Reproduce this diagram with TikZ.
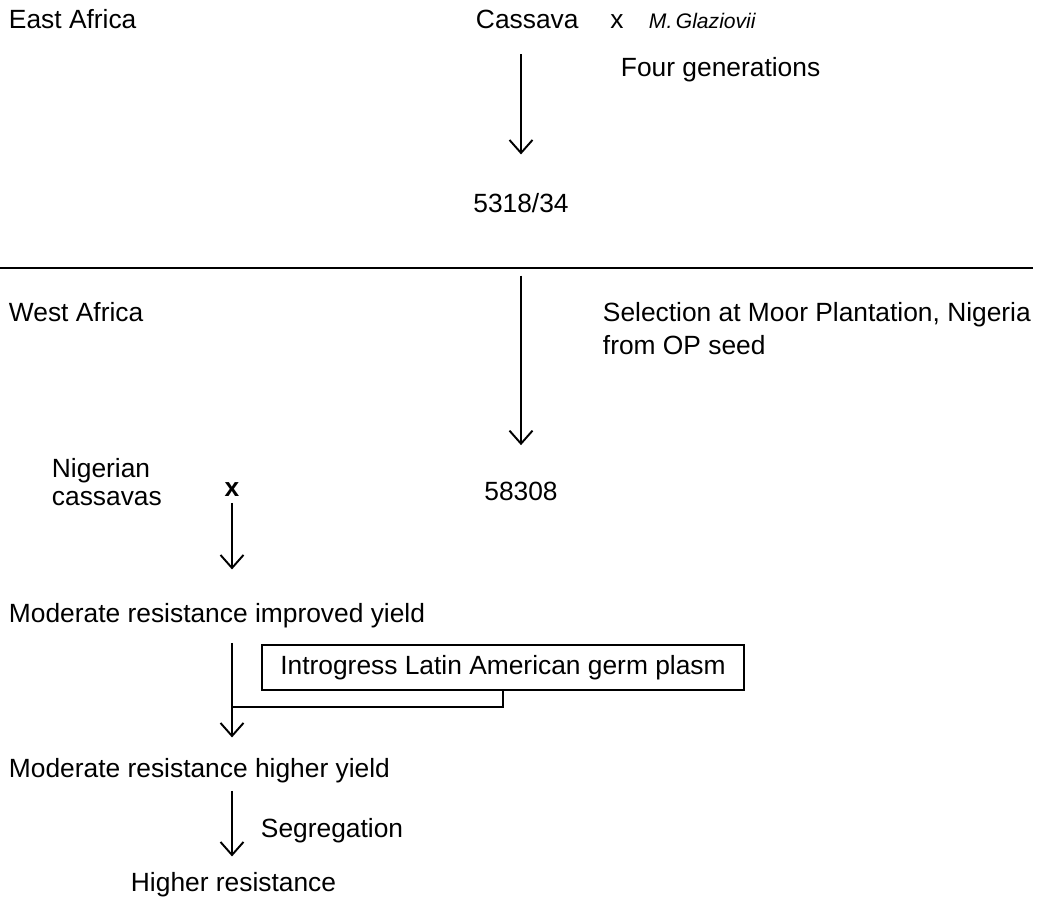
\documentclass[tikz,border=0pt]{standalone}
\usepackage{fontspec}
\setmainfont{Liberation Sans}
\usetikzlibrary{arrows.meta}
\begin{document}
\begin{tikzpicture}[>={Straight Barb[length=2.6mm,width=4.6mm]},line width=1.1pt,
  txt/.style={inner sep=0,anchor=base west,font=\fontsize{15}{18}\selectfont},
  mid/.style={inner sep=0,anchor=base,font=\fontsize{15}{18}\selectfont}]
\useasboundingbox (0,0) rectangle (20.86,-18.14);
% East Africa
\node[txt] (east) at (0.16,-0.58) {East Africa};
\node[txt] (cassava) at (9.50,-0.58) {Cassava};
\node[mid] (cross1) at (12.34,-0.58) {x};
\node[txt,font=\fontsize{12}{14}\selectfont\itshape] (glaz) at (12.96,-0.58) {M.\,Glaziovii};
\node[txt] (four) at (12.40,-1.54) {Four generations};
\node[mid] (n5318) at (10.42,-4.26) {5318/34};
\draw[->,shorten <=4.8mm,shorten >=7.7mm] (n5318 |- cassava.south)--(n5318.north);
\draw (0,-5.36)--(20.66,-5.36);
% West Africa
\node[txt] (west) at (0.16,-6.44) {West Africa};
\node[txt] (sel) at (12.04,-6.44) {Selection at Moor Plantation, Nigeria};
\node[txt] (op) at (12.04,-7.10) {from OP seed};
\node[mid] (n58308) at (10.42,-10.02) {58308};
\draw[->,shorten <=12.3mm,shorten >=7.3mm] (n5318.south)--(n58308.north);
\node[txt] (nig) at (1.02,-9.56) {Nigerian};
\node[txt] (cas) at (1.02,-10.12) {cassavas};
\node[mid,font=\fontsize{15}{18}\selectfont\bfseries] (cross2) at (4.64,-9.94) {x};
\node[txt] (mod1) at (0.16,-12.46) {Moderate resistance improved yield};
\draw[->,shorten <=1mm,shorten >=6.7mm] (cross2.south)--(cross2.south |- mod1.north);
\node[draw,inner sep=0,minimum width=9.64cm,minimum height=0.9cm,font=\fontsize{15}{18}\selectfont] (box) at (10.06,-13.35) {Introgress Latin American germ plasm};
\node[txt] (mod2) at (0.16,-15.56) {Moderate resistance higher yield};
\draw[->,shorten <=2.7mm,shorten >=4.1mm] (cross2 |- mod1.south)--(cross2 |- mod2.north);
\coordinate (join) at (4.64,-14.14);
\draw (box.south) |- (join);
\node[txt] (seg) at (5.20,-16.76) {Segregation};
\node[txt] (high) at (2.60,-17.84) {Higher resistance};
\draw[->,shorten <=1.3mm,shorten >=3.1mm] (cross2 |- mod2.south)--(cross2 |- high.north);
\end{tikzpicture}
\end{document}
